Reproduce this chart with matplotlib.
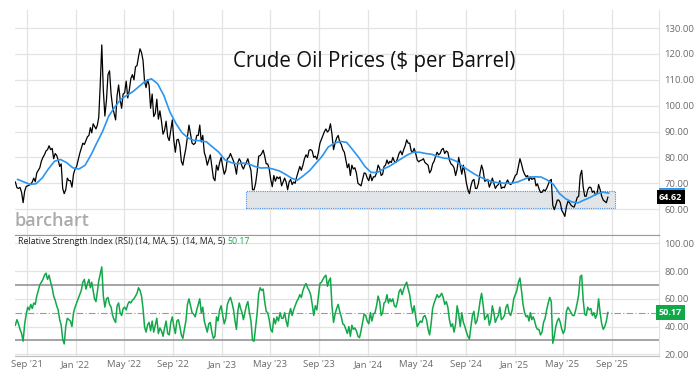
import matplotlib
matplotlib.use("Agg")
import matplotlib.pyplot as plt
import matplotlib.dates as mdates
from matplotlib.patches import Rectangle
import numpy as np
import pandas as pd

plt.rcParams['font.family'] = ['Open Sans', 'DejaVu Sans']

# first month of data, values spread evenly inside each month
start_month = "2021-08"

# crude oil close, 8 readings per month (Aug 2021 .. Aug 2025)
price = [
    70.5, 68.3, 68.0, 68.4, 66.5, 62.5, 67.0, 68.8,   # Aug 21
    69.0, 69.3, 69.7, 70.5, 72.0, 70.6, 74.0, 75.0,   # Sep
    76.0, 78.5, 80.0, 81.0, 82.5, 83.0, 84.5, 83.0,   # Oct
    83.5, 79.5, 81.5, 80.8, 79.0, 76.5, 77.5, 68.0,   # Nov
    66.0, 67.5, 72.0, 71.0, 71.0, 68.5, 73.5, 75.5,   # Dec
    76.5, 79.0, 81.5, 83.5, 85.5, 85.0, 86.5, 88.0,   # Jan 22
    88.5, 91.5, 89.5, 93.0, 92.0, 91.0, 92.5, 95.5,   # Feb
    108.0, 123.5, 106.0, 96.0, 102.0, 112.0, 113.5, 104.5,  # Mar
    99.5, 97.0, 94.5, 104.0, 108.0, 102.5, 99.0, 104.5,  # Apr
    105.0, 109.5, 103.0, 106.0, 110.5, 112.0, 110.0, 115.0,  # May
    115.5, 119.0, 122.0, 120.5, 117.5, 109.5, 107.0, 110.0,  # Jun
    108.0, 99.0, 104.5, 95.8, 97.0, 102.5, 94.8, 98.0,   # Jul
    94.0, 89.0, 90.5, 94.0, 88.0, 86.5, 90.5, 94.5,   # Aug
    86.5, 82.0, 86.8, 87.0, 84.5, 78.5, 77.0, 80.5,   # Sep
    83.5, 88.0, 92.5, 89.0, 85.5, 85.0, 85.5, 88.5,   # Oct
    88.5, 92.5, 86.0, 88.5, 82.0, 80.0, 77.0, 79.0,   # Nov
    81.0, 76.5, 72.0, 71.0, 77.0, 75.0, 78.0, 80.0,   # Dec
    76.5, 73.5, 75.0, 79.5, 80.0, 81.5, 80.0, 78.5,   # Jan 23
    76.5, 73.5, 78.0, 79.5, 78.5, 76.5, 75.5, 77.0,   # Feb
    78.0, 79.5, 77.0, 75.0, 67.5, 67.5, 70.0, 74.5,   # Mar
    80.5, 80.7, 81.5, 82.8, 80.5, 77.5, 77.5, 75.5,   # Apr
    71.5, 68.7, 73.0, 70.8, 72.5, 71.8, 72.5, 69.0,   # May
    70.5, 72.0, 70.5, 67.5, 70.5, 71.5, 69.5, 70.5,   # Jun
    70.0, 72.5, 74.5, 76.5, 75.0, 77.0, 79.5, 81.0,   # Jul
    80.0, 82.8, 83.0, 82.5, 80.0, 80.5, 79.3, 82.0,   # Aug
    85.5, 87.0, 88.5, 90.0, 91.0, 89.8, 90.5, 93.0,   # Sep
    89.0, 83.0, 85.5, 87.5, 88.5, 86.0, 85.0, 83.0,   # Oct
    82.0, 79.0, 76.0, 77.5, 73.0, 77.0, 75.5, 76.0,   # Nov
    74.0, 70.0, 69.5, 69.0, 71.5, 74.0, 73.8, 72.0,   # Dec
    71.0, 73.5, 71.0, 72.5, 72.5, 74.0, 77.0, 75.8,   # Jan 24
    73.0, 73.5, 76.5, 77.0, 79.0, 77.5, 78.5, 78.0,   # Feb
    80.0, 78.5, 78.0, 79.5, 81.5, 82.5, 81.0, 83.0,   # Mar
    84.5, 86.8, 85.5, 85.5, 82.5, 82.0, 83.5, 81.5,   # Apr
    79.0, 78.3, 78.8, 79.0, 79.5, 78.0, 77.5, 77.0,   # May
    74.0, 75.0, 77.5, 78.5, 80.5, 82.0, 81.0, 81.5,   # Jun
    83.0, 83.5, 81.5, 82.5, 82.0, 79.0, 77.5, 77.0,   # Jul
    76.0, 73.0, 75.5, 80.0, 76.8, 73.5, 77.0, 74.0,   # Aug
    70.0, 67.5, 66.0, 69.0, 71.0, 71.5, 68.0, 68.0,   # Sep
    70.0, 74.0, 77.0, 75.0, 70.8, 71.0, 71.5, 68.5,   # Oct
    70.0, 72.0, 70.0, 68.0, 69.0, 69.5, 71.0, 68.0,   # Nov
    68.5, 68.3, 70.0, 71.3, 70.0, 69.5, 70.0, 71.5,   # Dec
    73.0, 73.5, 76.5, 79.5, 77.5, 75.0, 73.5, 72.5,   # Jan 25
    73.0, 71.0, 72.5, 71.5, 71.8, 72.0, 69.0, 69.8,   # Feb
    68.0, 66.5, 66.5, 67.5, 67.0, 68.0, 69.5, 71.0,   # Mar
    71.5, 61.5, 59.8, 61.5, 63.5, 63.5, 62.5, 59.5,   # Apr
    58.5, 57.2, 61.0, 63.0, 62.5, 61.5, 61.0, 60.8,   # May
    62.5, 64.5, 65.0, 73.0, 75.0, 68.5, 65.0, 65.0,   # Jun
    67.5, 68.5, 68.4, 66.5, 67.0, 65.5, 66.0, 69.5,   # Jul
    67.5, 65.0, 63.5, 63.0, 62.5, 64.62,              # Aug 25
]

# moving average (blue), 2 readings per month
ma = [
    71.5, 70.5, 69.6, 69.8, 72.0, 75.5, 78.5, 79.2, 78.0, 76.0,
    75.5, 77.0, 81.0, 85.5, 90.0, 96.0, 99.5, 102.5, 104.0, 105.5,
    107.5, 109.5, 110.4, 108.5, 104.0, 97.5, 93.0, 89.5, 87.5, 86.5,
    86.5, 86.0, 84.0, 82.0,
    79.0, 78.0, 77.5, 77.8, 77.5, 76.5, 75.9, 76.0, 75.5, 74.8,
    73.5, 72.0, 71.2, 73.0, 75.0, 77.8, 80.5, 84.0, 85.5, 86.2,
    85.8, 83.0, 80.0, 76.5,
    74.2, 74.2, 75.5, 76.5, 78.0, 79.5, 81.0, 82.0, 82.0, 81.5,
    81.2, 80.3, 79.7, 79.5, 78.5, 76.5, 75.0, 73.5, 72.3, 71.3,
    70.5, 70.2, 70.0, 70.0,
    70.5, 71.5, 72.4, 72.5, 72.4, 71.2, 69.5, 66.0, 64.0, 62.8,
    62.4, 63.5, 64.5, 65.8, 66.6, 66.2,
]

# RSI(14), 8 readings per month
rsi = [
    41, 45, 42, 38, 35, 29.5, 42, 49,
    54, 52, 56, 53, 57, 56, 62, 66,
    70, 72, 74, 77, 78.5, 74, 77, 72,
    68, 62, 59, 55, 52, 45, 41, 31,
    27.5, 40, 46, 45, 44, 40, 50, 54,
    57, 60, 63, 66, 72, 74, 67, 71,
    74, 68, 72, 66, 60, 58, 65, 73,
    78, 83, 62, 54, 60, 61, 56, 54,
    48, 45, 43, 55, 57, 50, 48, 53,
    54, 52, 56, 58, 57, 59, 60, 62,
    64, 68, 66, 62, 53, 40, 36, 41,
    43, 37, 44, 36, 41, 46, 35, 39,
    37, 33, 39, 44, 35, 34, 43, 47,
    40, 35, 44, 45, 40, 34, 31.5, 38,
    44, 56, 60, 55, 50, 49, 47, 52,
    56, 60, 50, 54, 44, 40, 36, 42,
    43, 36, 31.5, 33, 47, 44, 52, 55,
    48, 42, 46, 56, 59, 61, 57, 52,
    44, 38, 51, 57, 53, 50, 45, 50,
    55, 58, 50, 44, 30, 29.5, 40, 50,
    64, 68, 66, 67, 58, 51, 50, 45,
    38, 36, 46, 42, 47, 44, 50, 46,
    46, 50, 44, 40, 49, 53, 48, 52,
    55, 58, 60, 63, 61, 66, 69, 71,
    68, 66, 63, 56, 48, 55, 52, 62,
    71, 72, 74, 76, 77, 69, 73, 75,
    55, 43, 49, 53, 56, 51, 47, 42,
    41, 38, 35, 40, 33, 41, 38, 39,
    37, 33, 32, 37, 43, 49, 48, 44,
    42, 50, 44, 49, 50, 55, 62, 58,
    48, 50, 57, 58, 63, 57, 60, 58,
    60, 55, 54, 58, 65, 67, 63, 67,
    70, 72, 67, 63, 55, 50, 55, 47,
    40, 42, 44, 43, 47, 48, 45, 38,
    34, 42, 53, 57, 60, 63, 61, 62,
    64, 61, 56, 58, 54, 45, 40, 42,
    36, 42, 55, 49, 40, 50, 43, 40,
    36, 33, 31, 40, 48, 51, 42, 44,
    50, 58, 64, 56, 45, 47, 49, 41,
    45, 55, 50, 43, 46, 48, 54, 45,
    46, 48, 54, 56, 50, 48, 52, 60,
    63, 66, 72, 75, 66, 56, 50, 47,
    48, 44, 50, 45, 47, 44, 40, 38,
    38, 34, 36, 43, 46, 52, 57, 61,
    58, 28, 33, 40, 44, 46, 43, 38,
    35, 38, 51, 54, 52, 50, 48, 48,
    52, 57, 63, 76, 77, 59, 49, 48,
    54, 52, 53, 48, 50, 46, 49, 60,
    50, 42, 38, 40, 44, 50.17,
]

support_zone = (60.4, 67.0)
support_dates = ("2023-03-03", "2025-09-08")
title = "Crude Oil Prices ($ per Barrel)"
rsi_label = "Relative Strength Index (RSI) (14, MA, 5)  (14, MA, 5) "


def month_dates(n, per_month):
    months = pd.period_range(start_month, periods=(n + per_month - 1) // per_month, freq="M")
    out = []
    for i in range(n):
        m = months[i // per_month]
        frac = (i % per_month + 0.5) / per_month
        out.append(m.start_time + pd.Timedelta(days=m.days_in_month * frac))
    return pd.DatetimeIndex(out)


price_x = month_dates(len(price), 8)
ma_x = month_dates(len(ma), 2)
rsi_x = month_dates(len(rsi), 8)

grid_c = "#e3e3e3"
tick_c = "#6b6b6b"
green = "#12a84a"
blue_ma = "#2b95f0"

fig = plt.figure(figsize=(7, 3.77), dpi=100)
ax1 = fig.add_axes([15 / 700, 1 - 235 / 377, 644 / 700, 225 / 377])
ax2 = fig.add_axes([15 / 700, 1 - 356 / 377, 644 / 700, 121 / 377], sharex=ax1)

xmin, xmax = pd.Timestamp("2021-08-02"), pd.Timestamp("2025-12-28")

# ---- price panel
ax1.plot(price_x, price, color="black", lw=0.9, zorder=3)
ax1.plot(ma_x, ma, color=blue_ma, lw=1.2, zorder=4)
x0, x1 = mdates.date2num(pd.Timestamp(support_dates[0])), mdates.date2num(pd.Timestamp(support_dates[1]))
ax1.add_patch(Rectangle((x0, support_zone[0]), x1 - x0, support_zone[1] - support_zone[0],
                        facecolor="#e2e5e8", edgecolor="#4a90e2", lw=0.8, ls=(0, (1, 1)), zorder=2))
ax1.set_ylim(50, 137)
ax1.set_yticks(np.arange(60, 131, 10))
ax1.yaxis.set_major_formatter(matplotlib.ticker.FormatStrFormatter("%.2f"))
fig.text(374 / 700, 1 - 62 / 377, title, ha="center", va="center", fontsize=14.8, color="#111111")
fig.text(15 / 700, 1 - 221 / 377, "barchart", ha="left", va="center", fontsize=13,
         color="#ababab", fontweight="semibold")

# last value labels (MA label mostly hidden behind the price label)
ax1.add_patch(Rectangle((1.0, ma[-1] - 1.9), 0.04, 3.8, transform=ax1.get_yaxis_transform(),
                        facecolor=blue_ma, edgecolor="none", clip_on=False, zorder=5))
ax1.text(1.0, price[-1], f"{price[-1]:.2f}", transform=ax1.get_yaxis_transform(), ha="left",
         va="center", fontsize=6.5, color="white", fontweight="bold", zorder=6,
         bbox=dict(boxstyle="square,pad=0.25", fc="black", ec="none"))

# ---- RSI panel
ax2.plot(rsi_x, rsi, color=green, lw=1.1, zorder=3)
hi, = ax2.plot(rsi_x, rsi, color="#1533ff", lw=1.1, zorder=4)
hi.set_clip_path(Rectangle((0, 70), 1, 60, transform=ax2.get_xaxis_transform()))
lo, = ax2.plot(rsi_x, rsi, color="#ff1a1a", lw=1.4, zorder=4)
lo.set_clip_path(Rectangle((0, 0), 1, 30, transform=ax2.get_xaxis_transform()))
for lvl in (70, 30):
    ax2.axhline(lvl, color="#8c8c8c", lw=1.1, zorder=2)
ax2.axhline(50, color="#9a9a9a", lw=0.8, ls=(0, (6, 2, 1, 2)), zorder=2)
ax2.set_ylim(18.8, 106)
ax2.set_yticks([20, 40, 60, 80, 100])
ax2.yaxis.set_major_formatter(matplotlib.ticker.FormatStrFormatter("%.2f"))
leg = fig.text(18 / 700, 1 - 242 / 377, rsi_label, ha="left", va="center", fontsize=6.3, color="#222222")
fig.canvas.draw()
bb = leg.get_window_extent(fig.canvas.get_renderer())
fig.text(bb.x1 / fig.bbox.width, 1 - 242 / 377, f"{rsi[-1]:.2f}", ha="left", va="center",
         fontsize=6.3, color=green)
ax2.text(1.0, rsi[-1], f"{rsi[-1]:.2f}", transform=ax2.get_yaxis_transform(), ha="left",
         va="center", fontsize=6.5, color="white", fontweight="bold",
         bbox=dict(boxstyle="square,pad=0.3", fc=green, ec="none"))

# ---- shared styling
for ax in (ax1, ax2):
    ax.set_xlim(xmin, xmax)
    ax.grid(True, color=grid_c, lw=0.9)
    ax.set_axisbelow(True)
    ax.yaxis.tick_right()
    ax.tick_params(axis="y", length=0, pad=4, labelsize=6.8, labelcolor=tick_c)
    ax.tick_params(axis="x", length=0, pad=3, labelsize=6.8, labelcolor=tick_c)
    for side in ("left", "top"):
        ax.spines[side].set_visible(False)
    ax.spines["right"].set_color(grid_c)
    ax.spines["bottom"].set_color("#bdbdbd")
ax1.spines["bottom"].set_color("#9a9a9a")
ax2.spines["top"].set_visible(True)
ax2.spines["top"].set_color("#9a9a9a")
ax1.tick_params(axis="x", labelbottom=False)
ax2.xaxis.set_major_locator(mdates.MonthLocator(bymonth=[1, 5, 9]))
ax2.xaxis.set_major_formatter(mdates.DateFormatter("%b '%y"))

fig.savefig("out.png", dpi=100)
